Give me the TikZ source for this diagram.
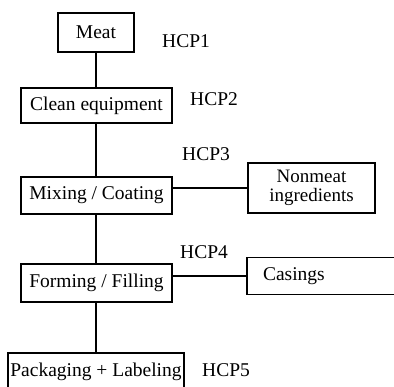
\documentclass[tikz,border=0pt]{standalone}
\usepackage{fontspec}
\setmainfont{Liberation Serif}
\begin{document}
\begin{tikzpicture}[x=1pt,y=-1pt,
  every node/.style={font=\fontsize{19.5}{17}\selectfont, inner sep=0pt},
  stepbox/.style={draw, line width=1.5pt, minimum width=#1, align=center},
  hcp/.style={anchor=base west},
  link/.style={line width=1.5pt}]
\useasboundingbox (0,0) rectangle (394,386);
\node[stepbox=76pt, minimum height=39pt] (meat) at (96,32.5) {Meat};
\node[stepbox=151pt, minimum height=35pt] (clean) at (96.5,105.5) {Clean equipment};
\node[stepbox=151pt, minimum height=37pt] (mix) at (96.5,195.5) {Mixing / Coating};
\node[stepbox=127pt, minimum height=50pt, font=\fontsize{19}{18.5}\selectfont] (nonmeat) at (311.5,188) {Nonmeat\\ingredients};
\node[stepbox=151pt, minimum height=38pt] (form) at (96.5,283) {Forming / Filling};
\node[stepbox=149pt, minimum height=37pt, text width=117pt, align=left] (casings) at (321.5,276) {Casings};
\node[stepbox=176pt, minimum height=37pt] (pack) at (96,371.5) {Packaging + Labeling};
\node[hcp] (h1) at (162,47) {HCP1};
\node[hcp] (h2) at (190,105) {HCP2};
\node[hcp] (h3) at (182,160) {HCP3};
\node[hcp] (h4) at (180,258) {HCP4};
\node[hcp] (h5) at (202,376) {HCP5};
\draw[link] (meat.south) -- (meat.south |- clean.north);
\draw[link] (meat.south |- clean.south) -- (meat.south |- mix.north);
\draw[link] (meat.south |- mix.south) -- (meat.south |- form.north);
\draw[link] (meat.south |- form.south) -- (meat.south |- pack.north);
\draw[link] (mix.east |- nonmeat.west) -- (nonmeat.west);
\draw[link] (form.east |- casings.west) -- (casings.west);
\end{tikzpicture}
\end{document}
